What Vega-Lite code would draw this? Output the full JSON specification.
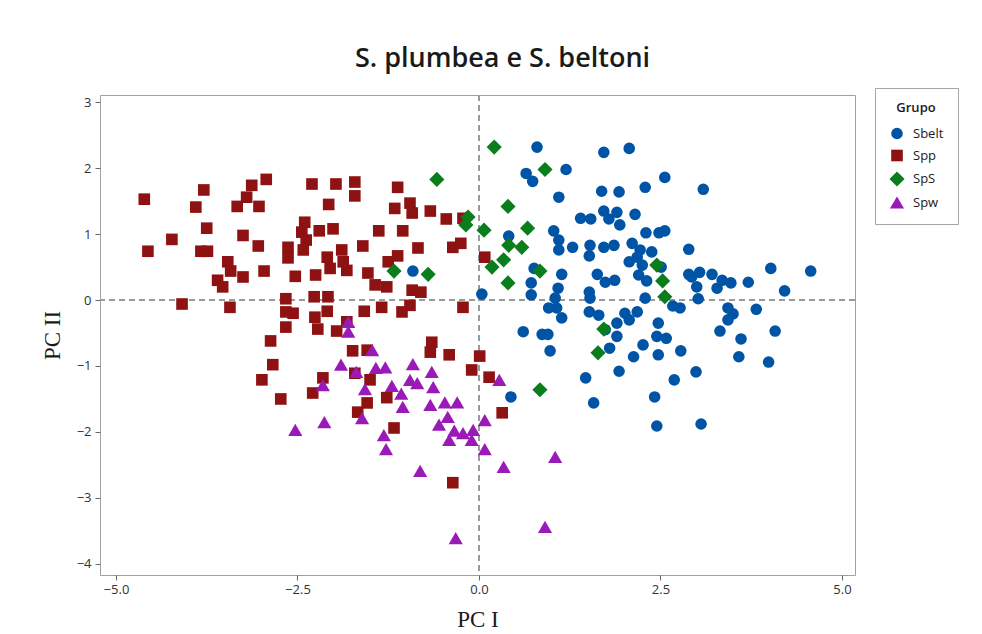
{
  "$schema": "https://vega.github.io/schema/vega-lite/v6.json",
  "autosize": "none",
  "width": 755,
  "height": 480,
  "padding": {"left": 100, "top": 95, "right": 127, "bottom": 59},
  "background": "white",
  "config": {
    "view": {"stroke": "#a0a0a0", "strokeWidth": 1},
    "font": "Open Sans"
  },
  "title": {
    "text": "S. plumbea e S. beltoni",
    "font": "Open Sans",
    "fontSize": 27,
    "fontWeight": 600,
    "color": "#1a1a1a",
    "anchor": "middle",
    "dx": 25,
    "offset": 15
  },
  "data": {
    "values": [
      {"Grupo": "Sbelt", "PC1": -0.91, "PC2": 0.44},
      {"Grupo": "Sbelt", "PC1": 0.80, "PC2": 2.32},
      {"Grupo": "Sbelt", "PC1": 1.72, "PC2": 2.24},
      {"Grupo": "Sbelt", "PC1": 2.07, "PC2": 2.30},
      {"Grupo": "Sbelt", "PC1": 1.20, "PC2": 1.98},
      {"Grupo": "Sbelt", "PC1": 0.65, "PC2": 1.92},
      {"Grupo": "Sbelt", "PC1": 0.74, "PC2": 1.80},
      {"Grupo": "Sbelt", "PC1": 1.10, "PC2": 1.56},
      {"Grupo": "Sbelt", "PC1": 1.69, "PC2": 1.65},
      {"Grupo": "Sbelt", "PC1": 1.93, "PC2": 1.64},
      {"Grupo": "Sbelt", "PC1": 2.29, "PC2": 1.71},
      {"Grupo": "Sbelt", "PC1": 1.40, "PC2": 1.24},
      {"Grupo": "Sbelt", "PC1": 1.54, "PC2": 1.23},
      {"Grupo": "Sbelt", "PC1": 1.72, "PC2": 1.35},
      {"Grupo": "Sbelt", "PC1": 1.79, "PC2": 1.23},
      {"Grupo": "Sbelt", "PC1": 1.90, "PC2": 1.33},
      {"Grupo": "Sbelt", "PC1": 1.94, "PC2": 1.14},
      {"Grupo": "Sbelt", "PC1": 2.15, "PC2": 1.30},
      {"Grupo": "Sbelt", "PC1": 2.30, "PC2": 1.02},
      {"Grupo": "Sbelt", "PC1": 1.03, "PC2": 1.05},
      {"Grupo": "Sbelt", "PC1": 1.10, "PC2": 0.91},
      {"Grupo": "Sbelt", "PC1": 1.10, "PC2": 0.76},
      {"Grupo": "Sbelt", "PC1": 1.29, "PC2": 0.80},
      {"Grupo": "Sbelt", "PC1": 1.53, "PC2": 0.83},
      {"Grupo": "Sbelt", "PC1": 1.52, "PC2": 0.67},
      {"Grupo": "Sbelt", "PC1": 1.72, "PC2": 0.80},
      {"Grupo": "Sbelt", "PC1": 1.86, "PC2": 0.83},
      {"Grupo": "Sbelt", "PC1": 2.11, "PC2": 0.86},
      {"Grupo": "Sbelt", "PC1": 2.18, "PC2": 0.65},
      {"Grupo": "Sbelt", "PC1": 2.07, "PC2": 0.58},
      {"Grupo": "Sbelt", "PC1": 2.25, "PC2": 0.53},
      {"Grupo": "Sbelt", "PC1": 2.22, "PC2": 0.76},
      {"Grupo": "Sbelt", "PC1": 0.41, "PC2": 0.97},
      {"Grupo": "Sbelt", "PC1": 0.76, "PC2": 0.48},
      {"Grupo": "Sbelt", "PC1": 1.14, "PC2": 0.39},
      {"Grupo": "Sbelt", "PC1": 1.63, "PC2": 0.39},
      {"Grupo": "Sbelt", "PC1": 2.56, "PC2": 1.86},
      {"Grupo": "Sbelt", "PC1": 3.09, "PC2": 1.68},
      {"Grupo": "Sbelt", "PC1": 2.56, "PC2": 1.05},
      {"Grupo": "Sbelt", "PC1": 2.48, "PC2": 1.02},
      {"Grupo": "Sbelt", "PC1": 2.38, "PC2": 0.73},
      {"Grupo": "Sbelt", "PC1": 2.89, "PC2": 0.77},
      {"Grupo": "Sbelt", "PC1": 2.51, "PC2": 0.50},
      {"Grupo": "Sbelt", "PC1": 2.89, "PC2": 0.39},
      {"Grupo": "Sbelt", "PC1": 3.04, "PC2": 0.42},
      {"Grupo": "Sbelt", "PC1": 3.21, "PC2": 0.39},
      {"Grupo": "Sbelt", "PC1": 4.02, "PC2": 0.48},
      {"Grupo": "Sbelt", "PC1": 4.57, "PC2": 0.44},
      {"Grupo": "Sbelt", "PC1": 0.04, "PC2": 0.09},
      {"Grupo": "Sbelt", "PC1": 0.72, "PC2": 0.26},
      {"Grupo": "Sbelt", "PC1": 0.72, "PC2": 0.08},
      {"Grupo": "Sbelt", "PC1": 1.09, "PC2": 0.18},
      {"Grupo": "Sbelt", "PC1": 1.05, "PC2": 0.03},
      {"Grupo": "Sbelt", "PC1": 0.96, "PC2": -0.12},
      {"Grupo": "Sbelt", "PC1": 1.07, "PC2": -0.12},
      {"Grupo": "Sbelt", "PC1": 1.14, "PC2": -0.27},
      {"Grupo": "Sbelt", "PC1": 0.61, "PC2": -0.48},
      {"Grupo": "Sbelt", "PC1": 0.87, "PC2": -0.52},
      {"Grupo": "Sbelt", "PC1": 0.95, "PC2": -0.52},
      {"Grupo": "Sbelt", "PC1": 0.98, "PC2": -0.77},
      {"Grupo": "Sbelt", "PC1": 1.52, "PC2": 0.12},
      {"Grupo": "Sbelt", "PC1": 1.53, "PC2": 0.03},
      {"Grupo": "Sbelt", "PC1": 1.52, "PC2": -0.18},
      {"Grupo": "Sbelt", "PC1": 1.65, "PC2": -0.23},
      {"Grupo": "Sbelt", "PC1": 1.74, "PC2": -0.45},
      {"Grupo": "Sbelt", "PC1": 1.90, "PC2": -0.35},
      {"Grupo": "Sbelt", "PC1": 1.90, "PC2": -0.55},
      {"Grupo": "Sbelt", "PC1": 1.80, "PC2": -0.73},
      {"Grupo": "Sbelt", "PC1": 2.01, "PC2": -0.20},
      {"Grupo": "Sbelt", "PC1": 2.07, "PC2": -0.30},
      {"Grupo": "Sbelt", "PC1": 2.18, "PC2": -0.18},
      {"Grupo": "Sbelt", "PC1": 2.26, "PC2": -0.68},
      {"Grupo": "Sbelt", "PC1": 2.13, "PC2": -0.86},
      {"Grupo": "Sbelt", "PC1": 1.93, "PC2": -1.08},
      {"Grupo": "Sbelt", "PC1": 1.47, "PC2": -1.18},
      {"Grupo": "Sbelt", "PC1": 0.44, "PC2": -1.47},
      {"Grupo": "Sbelt", "PC1": 1.58, "PC2": -1.56},
      {"Grupo": "Sbelt", "PC1": 1.74, "PC2": 0.27},
      {"Grupo": "Sbelt", "PC1": 1.87, "PC2": 0.30},
      {"Grupo": "Sbelt", "PC1": 2.20, "PC2": 0.38},
      {"Grupo": "Sbelt", "PC1": 2.29, "PC2": 0.03},
      {"Grupo": "Sbelt", "PC1": 2.31, "PC2": 0.29},
      {"Grupo": "Sbelt", "PC1": 2.93, "PC2": 0.35},
      {"Grupo": "Sbelt", "PC1": 3.00, "PC2": 0.20},
      {"Grupo": "Sbelt", "PC1": 3.28, "PC2": 0.18},
      {"Grupo": "Sbelt", "PC1": 3.35, "PC2": 0.30},
      {"Grupo": "Sbelt", "PC1": 3.47, "PC2": 0.26},
      {"Grupo": "Sbelt", "PC1": 3.71, "PC2": 0.27},
      {"Grupo": "Sbelt", "PC1": 4.21, "PC2": 0.14},
      {"Grupo": "Sbelt", "PC1": 3.02, "PC2": 0.02},
      {"Grupo": "Sbelt", "PC1": 2.67, "PC2": -0.09},
      {"Grupo": "Sbelt", "PC1": 2.77, "PC2": -0.12},
      {"Grupo": "Sbelt", "PC1": 3.43, "PC2": -0.12},
      {"Grupo": "Sbelt", "PC1": 3.50, "PC2": -0.21},
      {"Grupo": "Sbelt", "PC1": 3.43, "PC2": -0.30},
      {"Grupo": "Sbelt", "PC1": 3.82, "PC2": -0.14},
      {"Grupo": "Sbelt", "PC1": 2.47, "PC2": -0.35},
      {"Grupo": "Sbelt", "PC1": 3.32, "PC2": -0.47},
      {"Grupo": "Sbelt", "PC1": 4.08, "PC2": -0.47},
      {"Grupo": "Sbelt", "PC1": 2.45, "PC2": -0.55},
      {"Grupo": "Sbelt", "PC1": 2.58, "PC2": -0.58},
      {"Grupo": "Sbelt", "PC1": 3.61, "PC2": -0.59},
      {"Grupo": "Sbelt", "PC1": 2.47, "PC2": -0.83},
      {"Grupo": "Sbelt", "PC1": 2.78, "PC2": -0.77},
      {"Grupo": "Sbelt", "PC1": 3.58, "PC2": -0.86},
      {"Grupo": "Sbelt", "PC1": 3.99, "PC2": -0.94},
      {"Grupo": "Sbelt", "PC1": 2.99, "PC2": -1.09},
      {"Grupo": "Sbelt", "PC1": 2.69, "PC2": -1.21},
      {"Grupo": "Sbelt", "PC1": 2.42, "PC2": -1.47},
      {"Grupo": "Sbelt", "PC1": 2.45, "PC2": -1.91},
      {"Grupo": "Sbelt", "PC1": 3.06, "PC2": -1.88},
      {"Grupo": "Spp", "PC1": -4.61, "PC2": 1.53},
      {"Grupo": "Spp", "PC1": -3.79, "PC2": 1.67},
      {"Grupo": "Spp", "PC1": -3.90, "PC2": 1.41},
      {"Grupo": "Spp", "PC1": -3.13, "PC2": 1.74},
      {"Grupo": "Spp", "PC1": -2.93, "PC2": 1.83},
      {"Grupo": "Spp", "PC1": -3.20, "PC2": 1.56},
      {"Grupo": "Spp", "PC1": -3.33, "PC2": 1.42},
      {"Grupo": "Spp", "PC1": -3.03, "PC2": 1.42},
      {"Grupo": "Spp", "PC1": -3.75, "PC2": 1.09},
      {"Grupo": "Spp", "PC1": -3.25, "PC2": 0.98},
      {"Grupo": "Spp", "PC1": -4.23, "PC2": 0.92},
      {"Grupo": "Spp", "PC1": -4.56, "PC2": 0.74},
      {"Grupo": "Spp", "PC1": -3.83, "PC2": 0.74},
      {"Grupo": "Spp", "PC1": -3.74, "PC2": 0.74},
      {"Grupo": "Spp", "PC1": -3.04, "PC2": 0.82},
      {"Grupo": "Spp", "PC1": -2.63, "PC2": 0.80},
      {"Grupo": "Spp", "PC1": -2.63, "PC2": 0.64},
      {"Grupo": "Spp", "PC1": -3.46, "PC2": 0.58},
      {"Grupo": "Spp", "PC1": -3.42, "PC2": 0.44},
      {"Grupo": "Spp", "PC1": -2.96, "PC2": 0.44},
      {"Grupo": "Spp", "PC1": -2.53, "PC2": 0.36},
      {"Grupo": "Spp", "PC1": -3.60, "PC2": 0.30},
      {"Grupo": "Spp", "PC1": -3.53, "PC2": 0.20},
      {"Grupo": "Spp", "PC1": -3.25, "PC2": 0.35},
      {"Grupo": "Spp", "PC1": -2.40, "PC2": 1.18},
      {"Grupo": "Spp", "PC1": -2.44, "PC2": 1.03},
      {"Grupo": "Spp", "PC1": -2.38, "PC2": 0.91},
      {"Grupo": "Spp", "PC1": -2.42, "PC2": 0.76},
      {"Grupo": "Spp", "PC1": -2.30, "PC2": 1.76},
      {"Grupo": "Spp", "PC1": -1.97, "PC2": 1.76},
      {"Grupo": "Spp", "PC1": -1.71, "PC2": 1.79},
      {"Grupo": "Spp", "PC1": -1.71, "PC2": 1.58},
      {"Grupo": "Spp", "PC1": -2.07, "PC2": 1.45},
      {"Grupo": "Spp", "PC1": -1.12, "PC2": 1.71},
      {"Grupo": "Spp", "PC1": -1.16, "PC2": 1.39},
      {"Grupo": "Spp", "PC1": -0.95, "PC2": 1.47},
      {"Grupo": "Spp", "PC1": -0.92, "PC2": 1.32},
      {"Grupo": "Spp", "PC1": -0.67, "PC2": 1.35},
      {"Grupo": "Spp", "PC1": -0.45, "PC2": 1.23},
      {"Grupo": "Spp", "PC1": -0.22, "PC2": 1.24},
      {"Grupo": "Spp", "PC1": -2.20, "PC2": 1.05},
      {"Grupo": "Spp", "PC1": -2.01, "PC2": 1.08},
      {"Grupo": "Spp", "PC1": -1.38, "PC2": 1.05},
      {"Grupo": "Spp", "PC1": -1.05, "PC2": 1.05},
      {"Grupo": "Spp", "PC1": -1.60, "PC2": 0.82},
      {"Grupo": "Spp", "PC1": -0.84, "PC2": 0.79},
      {"Grupo": "Spp", "PC1": -0.25, "PC2": 0.86},
      {"Grupo": "Spp", "PC1": -0.36, "PC2": 0.80},
      {"Grupo": "Spp", "PC1": -2.09, "PC2": 0.65},
      {"Grupo": "Spp", "PC1": -2.05, "PC2": 0.48},
      {"Grupo": "Spp", "PC1": -1.89, "PC2": 0.76},
      {"Grupo": "Spp", "PC1": -1.87, "PC2": 0.58},
      {"Grupo": "Spp", "PC1": -1.82, "PC2": 0.45},
      {"Grupo": "Spp", "PC1": -2.25, "PC2": 0.38},
      {"Grupo": "Spp", "PC1": -1.53, "PC2": 0.41},
      {"Grupo": "Spp", "PC1": -1.12, "PC2": 0.67},
      {"Grupo": "Spp", "PC1": -1.25, "PC2": 0.58},
      {"Grupo": "Spp", "PC1": -1.43, "PC2": 0.23},
      {"Grupo": "Spp", "PC1": -1.27, "PC2": 0.20},
      {"Grupo": "Spp", "PC1": -0.92, "PC2": 0.15},
      {"Grupo": "Spp", "PC1": -0.80, "PC2": 0.12},
      {"Grupo": "Spp", "PC1": -2.27, "PC2": 0.05},
      {"Grupo": "Spp", "PC1": -2.08, "PC2": 0.05},
      {"Grupo": "Spp", "PC1": -1.58, "PC2": -0.17},
      {"Grupo": "Spp", "PC1": -1.34, "PC2": -0.11},
      {"Grupo": "Spp", "PC1": -1.06, "PC2": -0.18},
      {"Grupo": "Spp", "PC1": -0.95, "PC2": -0.08},
      {"Grupo": "Spp", "PC1": -0.22, "PC2": -0.11},
      {"Grupo": "Spp", "PC1": -2.09, "PC2": -0.17},
      {"Grupo": "Spp", "PC1": -2.26, "PC2": -0.26},
      {"Grupo": "Spp", "PC1": -2.22, "PC2": -0.44},
      {"Grupo": "Spp", "PC1": -1.96, "PC2": -0.47},
      {"Grupo": "Spp", "PC1": -1.82, "PC2": -0.33},
      {"Grupo": "Spp", "PC1": -0.65, "PC2": -0.64},
      {"Grupo": "Spp", "PC1": -0.67, "PC2": -0.79},
      {"Grupo": "Spp", "PC1": -0.41, "PC2": -0.83},
      {"Grupo": "Spp", "PC1": -1.74, "PC2": -0.77},
      {"Grupo": "Spp", "PC1": -1.54, "PC2": -0.76},
      {"Grupo": "Spp", "PC1": -0.10, "PC2": -1.06},
      {"Grupo": "Spp", "PC1": -1.71, "PC2": -1.11},
      {"Grupo": "Spp", "PC1": -1.50, "PC2": -1.21},
      {"Grupo": "Spp", "PC1": -2.15, "PC2": -1.18},
      {"Grupo": "Spp", "PC1": -2.29, "PC2": -1.41},
      {"Grupo": "Spp", "PC1": -1.27, "PC2": -1.48},
      {"Grupo": "Spp", "PC1": -1.54, "PC2": -1.56},
      {"Grupo": "Spp", "PC1": -1.67, "PC2": -1.70},
      {"Grupo": "Spp", "PC1": -4.09, "PC2": -0.06},
      {"Grupo": "Spp", "PC1": -3.43, "PC2": -0.11},
      {"Grupo": "Spp", "PC1": -2.66, "PC2": 0.02},
      {"Grupo": "Spp", "PC1": -2.66, "PC2": -0.18},
      {"Grupo": "Spp", "PC1": -2.56, "PC2": -0.20},
      {"Grupo": "Spp", "PC1": -2.66, "PC2": -0.41},
      {"Grupo": "Spp", "PC1": -2.87, "PC2": -0.62},
      {"Grupo": "Spp", "PC1": -2.84, "PC2": -0.98},
      {"Grupo": "Spp", "PC1": -2.99, "PC2": -1.21},
      {"Grupo": "Spp", "PC1": -2.73, "PC2": -1.50},
      {"Grupo": "Spp", "PC1": 0.01, "PC2": -0.85},
      {"Grupo": "Spp", "PC1": 0.14, "PC2": -1.17},
      {"Grupo": "Spp", "PC1": 0.32, "PC2": -1.71},
      {"Grupo": "Spp", "PC1": -1.17, "PC2": -1.94},
      {"Grupo": "Spp", "PC1": -0.36, "PC2": -2.77},
      {"Grupo": "Spp", "PC1": 0.08, "PC2": 0.65},
      {"Grupo": "SpS", "PC1": -0.58, "PC2": 1.83},
      {"Grupo": "SpS", "PC1": -0.15, "PC2": 1.26},
      {"Grupo": "SpS", "PC1": -0.18, "PC2": 1.14},
      {"Grupo": "SpS", "PC1": -1.17, "PC2": 0.44},
      {"Grupo": "SpS", "PC1": -0.70, "PC2": 0.39},
      {"Grupo": "SpS", "PC1": 0.21, "PC2": 2.32},
      {"Grupo": "SpS", "PC1": 0.91, "PC2": 1.98},
      {"Grupo": "SpS", "PC1": 0.40, "PC2": 1.42},
      {"Grupo": "SpS", "PC1": 0.07, "PC2": 1.06},
      {"Grupo": "SpS", "PC1": 0.67, "PC2": 1.09},
      {"Grupo": "SpS", "PC1": 0.41, "PC2": 0.83},
      {"Grupo": "SpS", "PC1": 0.59, "PC2": 0.80},
      {"Grupo": "SpS", "PC1": 0.34, "PC2": 0.61},
      {"Grupo": "SpS", "PC1": 0.18, "PC2": 0.50},
      {"Grupo": "SpS", "PC1": 0.84, "PC2": 0.44},
      {"Grupo": "SpS", "PC1": 0.40, "PC2": 0.26},
      {"Grupo": "SpS", "PC1": 1.72, "PC2": -0.44},
      {"Grupo": "SpS", "PC1": 1.64, "PC2": -0.80},
      {"Grupo": "SpS", "PC1": 0.84, "PC2": -1.36},
      {"Grupo": "SpS", "PC1": 2.45, "PC2": 0.53},
      {"Grupo": "SpS", "PC1": 2.53, "PC2": 0.29},
      {"Grupo": "SpS", "PC1": 2.56, "PC2": 0.05},
      {"Grupo": "Spw", "PC1": -1.80, "PC2": -0.33},
      {"Grupo": "Spw", "PC1": -1.80, "PC2": -0.48},
      {"Grupo": "Spw", "PC1": -1.47, "PC2": -0.76},
      {"Grupo": "Spw", "PC1": -1.90, "PC2": -0.98},
      {"Grupo": "Spw", "PC1": -1.69, "PC2": -1.09},
      {"Grupo": "Spw", "PC1": -1.42, "PC2": -1.03},
      {"Grupo": "Spw", "PC1": -1.29, "PC2": -1.02},
      {"Grupo": "Spw", "PC1": -0.91, "PC2": -0.97},
      {"Grupo": "Spw", "PC1": -0.65, "PC2": -1.09},
      {"Grupo": "Spw", "PC1": -0.95, "PC2": -1.21},
      {"Grupo": "Spw", "PC1": -0.85, "PC2": -1.26},
      {"Grupo": "Spw", "PC1": -0.63, "PC2": -1.32},
      {"Grupo": "Spw", "PC1": -1.20, "PC2": -1.30},
      {"Grupo": "Spw", "PC1": -1.07, "PC2": -1.42},
      {"Grupo": "Spw", "PC1": -2.15, "PC2": -1.29},
      {"Grupo": "Spw", "PC1": -1.57, "PC2": -1.35},
      {"Grupo": "Spw", "PC1": -1.05, "PC2": -1.62},
      {"Grupo": "Spw", "PC1": -0.67, "PC2": -1.59},
      {"Grupo": "Spw", "PC1": -0.47, "PC2": -1.55},
      {"Grupo": "Spw", "PC1": -0.30, "PC2": -1.55},
      {"Grupo": "Spw", "PC1": 0.28, "PC2": -1.21},
      {"Grupo": "Spw", "PC1": -2.53, "PC2": -1.97},
      {"Grupo": "Spw", "PC1": -2.13, "PC2": -1.85},
      {"Grupo": "Spw", "PC1": -1.61, "PC2": -1.79},
      {"Grupo": "Spw", "PC1": -0.43, "PC2": -1.77},
      {"Grupo": "Spw", "PC1": -0.55, "PC2": -1.89},
      {"Grupo": "Spw", "PC1": -0.34, "PC2": -1.98},
      {"Grupo": "Spw", "PC1": -0.22, "PC2": -2.02},
      {"Grupo": "Spw", "PC1": -0.08, "PC2": -1.97},
      {"Grupo": "Spw", "PC1": -0.10, "PC2": -2.12},
      {"Grupo": "Spw", "PC1": -0.41, "PC2": -2.12},
      {"Grupo": "Spw", "PC1": -1.31, "PC2": -2.05},
      {"Grupo": "Spw", "PC1": -1.28, "PC2": -2.26},
      {"Grupo": "Spw", "PC1": -0.81, "PC2": -2.59},
      {"Grupo": "Spw", "PC1": -0.32, "PC2": -3.61},
      {"Grupo": "Spw", "PC1": 0.08, "PC2": -1.82},
      {"Grupo": "Spw", "PC1": 0.08, "PC2": -2.26},
      {"Grupo": "Spw", "PC1": 1.05, "PC2": -2.38},
      {"Grupo": "Spw", "PC1": 0.34, "PC2": -2.53},
      {"Grupo": "Spw", "PC1": 0.91, "PC2": -3.44}
    ]
  },
  "layer": [
    {
      "mark": {"type": "rule", "color": "#9a9a9a", "strokeWidth": 1.3, "strokeDash": [6, 4]},
      "encoding": {"x": {"datum": 0, "type": "quantitative"}}
    },
    {
      "mark": {"type": "rule", "color": "#9a9a9a", "strokeWidth": 1.3, "strokeDash": [6, 4]},
      "encoding": {"y": {"datum": 0, "type": "quantitative"}}
    },
    {
      "mark": {"type": "point", "filled": true, "opacity": 1},
      "encoding": {
        "x": {
          "field": "PC1",
          "type": "quantitative",
          "scale": {"domain": [-5.22, 5.18], "nice": false, "zero": false},
          "axis": {
            "values": [-5, -2.5, 0, 2.5, 5],
            "format": ".1f",
            "grid": false,
            "domain": false,
            "tickColor": "#666666",
            "tickSize": 5,
            "labelFont": "Open Sans",
            "labelFontSize": 13,
            "labelColor": "#333333",
            "labelPadding": 3,
            "title": "PC I",
            "titleFont": "Liberation Serif",
            "titleFontSize": 23,
            "titleFontWeight": "normal",
            "titleColor": "#1a1a1a",
            "titlePadding": 12
          }
        },
        "y": {
          "field": "PC2",
          "type": "quantitative",
          "scale": {"domain": [-4.17, 3.11], "nice": false, "zero": false},
          "axis": {
            "values": [-4, -3, -2, -1, 0, 1, 2, 3],
            "format": "d",
            "grid": false,
            "domain": false,
            "tickColor": "#666666",
            "tickSize": 5,
            "labelFont": "Open Sans",
            "labelFontSize": 13,
            "labelColor": "#333333",
            "labelPadding": 4,
            "title": "PC II",
            "titleFont": "Liberation Serif",
            "titleFontSize": 23,
            "titleFontWeight": "normal",
            "titleColor": "#1a1a1a",
            "titlePadding": 12
          }
        },
        "color": {
          "field": "Grupo",
          "type": "nominal",
          "scale": {
            "domain": ["Sbelt", "Spp", "SpS", "Spw"],
            "range": ["#0054a6", "#8e1212", "#0a7d1c", "#9a1ab8"]
          },
          "legend": {
            "orient": "none",
            "legendX": 775,
            "legendY": -7,
            "title": "Grupo",
            "titleFont": "Open Sans",
            "titleFontSize": 13,
            "titleFontWeight": 600,
            "titleColor": "#1a1a1a",
            "titleAnchor": "middle",
            "titlePadding": 12,
            "labelFont": "Open Sans",
            "labelFontSize": 13,
            "labelColor": "#1a1a1a",
            "rowPadding": 8,
            "padding": 14,
            "strokeColor": "#a6a6a6",
            "fillColor": "white",
            "symbolStrokeWidth": 0,
            "labelOffset": 8
          }
        },
        "shape": {
          "field": "Grupo",
          "type": "nominal",
          "scale": {
            "domain": ["Sbelt", "Spp", "SpS", "Spw"],
            "range": ["circle", "square", "diamond", "triangle-up"]
          }
        },
        "size": {
          "field": "Grupo",
          "type": "nominal",
          "scale": {
            "type": "ordinal",
            "domain": ["Sbelt", "Spp", "SpS", "Spw"],
            "range": [135, 135, 230, 200]
          }
        }
      }
    }
  ]
}
